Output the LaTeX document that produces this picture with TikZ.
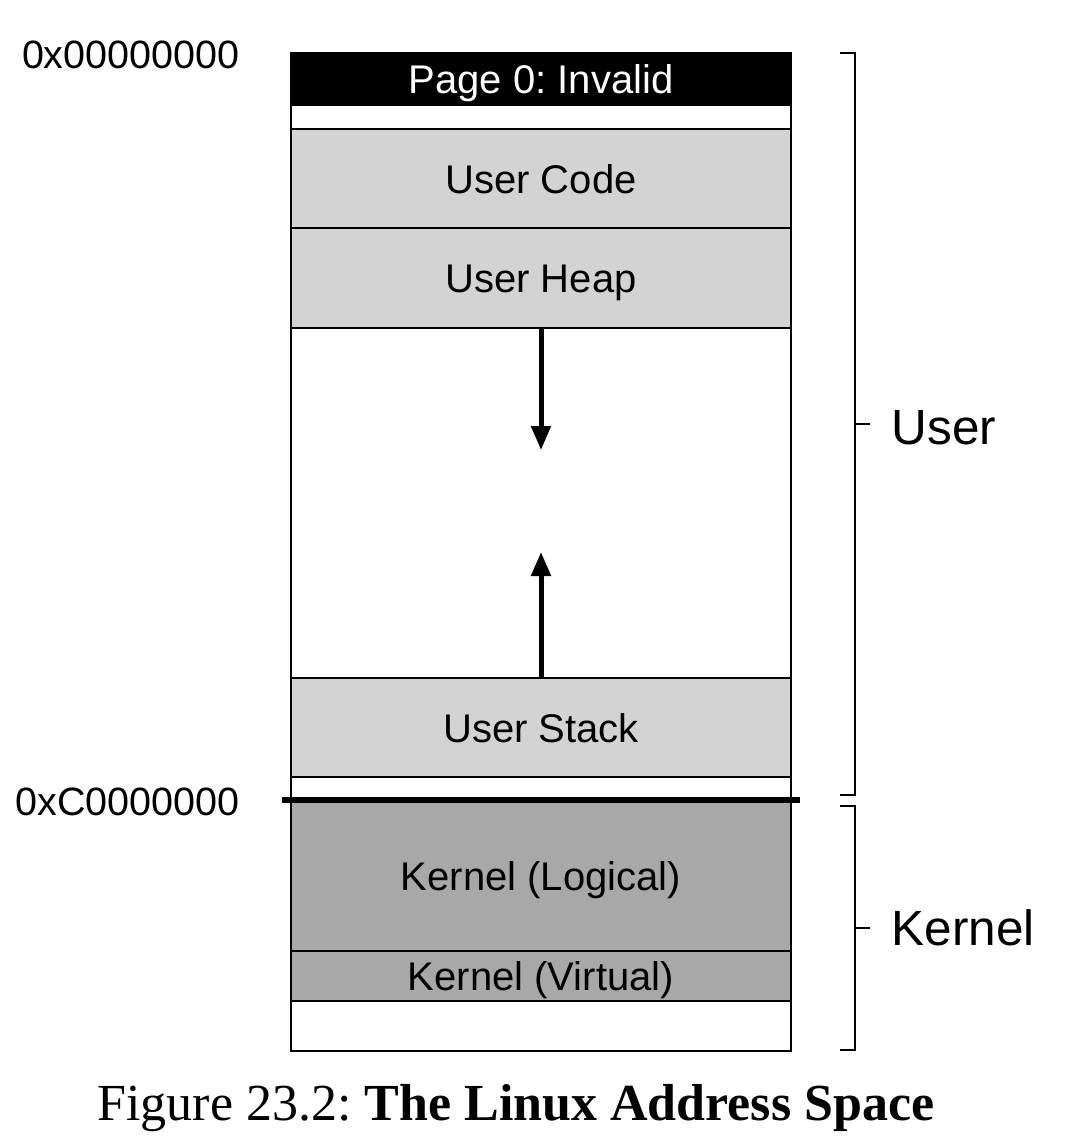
\documentclass[tikz,border=0pt]{standalone}
\usepackage{fontspec}
\usepackage{tikz}
\usepackage{xcolor}
\usetikzlibrary{arrows.meta}
\newfontfamily\helv{Liberation Sans}
\newfontfamily\capfont{Liberation Serif}
\definecolor{usergray}{RGB}{211,211,211}
\definecolor{kernelgray}{RGB}{168,168,168}
\frenchspacing

\begin{document}
\begin{tikzpicture}[x=1pt, y=-1pt,
    seg/.style={draw, line width=2pt, minimum width=500pt, anchor=north, inner sep=0pt,
        text height=29pt, text depth=0pt, font=\helv\fontsize{40}{40}\selectfont},
    sidelabel/.style={anchor=west, font=\helv\fontsize{49.5}{50}\selectfont},
    addrlabel/.style={anchor=east, font=\helv\fontsize{39.5}{40}\selectfont},
    growarrow/.style={line width=5pt, -{Triangle[length=24pt, width=19pt]}},
    bracket/.style={line width=2pt}]
    \useasboundingbox[fill=white] (0,0) rectangle (1068,1141);

    % User part of the address space
    \node[seg, fill=black, text=white, minimum height=52pt] (page0) at (541,52) {Page 0: Invalid};
    \node[seg, minimum height=24pt] (gapa) at (541,104) {};
    \node[seg, fill=usergray, minimum height=99pt] (code) at (541,128) {User Code};
    \node[seg, fill=usergray, minimum height=100pt] (heap) at (541,227) {User Heap};
    \node[seg, minimum height=350pt] (free) at (541,327) {};
    \node[seg, fill=usergray, minimum height=99pt] (stack) at (541,677) {User Stack};
    \node[seg, minimum height=24pt] (gapb) at (541,776) {};

    % Kernel part
    \node[seg, fill=kernelgray, minimum height=150pt] (klogical) at (541,800) {Kernel (Logical)};
    \node[seg, fill=kernelgray, minimum height=50pt] (kvirtual) at (541,950) {Kernel (Virtual)};
    \node[seg, minimum height=50pt] (gapc) at (541,1000) {};

    % Heap and stack growth
    \coordinate (heapend) at (541,450);
    \coordinate (stackend) at (541,552);
    \draw[growarrow] (heap.south) -- (heapend);
    \draw[growarrow] (stack.north) -- (stackend);

    % User/kernel split
    \coordinate (splitl) at (282,800);
    \coordinate (splitr) at (800,800);
    \draw[line width=6pt] (splitl) -- (splitr);

    % Addresses
    \node[addrlabel] (addrzero) at (243,55) {0x00000000};
    \node[addrlabel] (addrsplit) at (243,802) {0xC0000000};

    % Brackets on the right
    \draw[bracket] (840,53) -- (855,53) -- (855,795) -- (840,795);
    \draw[bracket] (855,424) -- (870,424);
    \node[sidelabel] (userlbl) at (888,428) {User};
    \draw[bracket] (840,806) -- (855,806) -- (855,1050) -- (840,1050);
    \draw[bracket] (855,928) -- (870,928);
    \node[sidelabel] (kernellbl) at (888,928) {Kernel};

    \node[font=\capfont\fontsize{52}{52}\selectfont] (caption) at (516,1108) {Figure 23.2: \textbf{The Linux Address Space}};
\end{tikzpicture}
\end{document}
